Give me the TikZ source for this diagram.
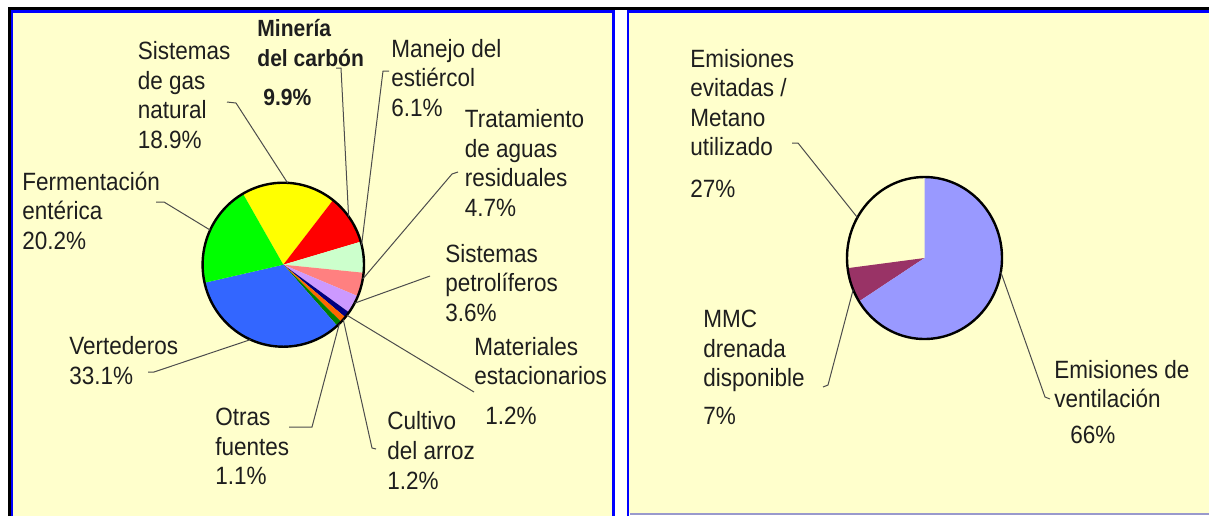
\documentclass[tikz,border=0pt]{standalone}
\usepackage{fontspec}
\setmainfont{Liberation Sans}[FakeStretch=0.9]
\usepackage{xcolor}

\definecolor{cream}{HTML}{FFFFCC}
\definecolor{gasyellow}{HTML}{FFFF00}
\definecolor{coalred}{HTML}{FF0000}
\definecolor{manuremint}{HTML}{CCFFCC}
\definecolor{watersalmon}{HTML}{FF8080}
\definecolor{oillilac}{HTML}{CC99FF}
\definecolor{statnavy}{HTML}{000080}
\definecolor{riceorange}{HTML}{FF6600}
\definecolor{otherdkgreen}{HTML}{008000}
\definecolor{landfillblue}{HTML}{3366FF}
\definecolor{entericgreen}{HTML}{00FF00}
\definecolor{drainmaroon}{HTML}{993366}
\definecolor{ventlavender}{HTML}{9999FF}
\definecolor{rimgrey}{HTML}{9999CC}
\definecolor{ink}{HTML}{1E1E1E}

\begin{document}
\begin{tikzpicture}[
    x=0.5pt, y=-0.5pt,
    lbl/.style={anchor=west, align=left, inner sep=0pt, text=ink, font=\fontsize{12.5}{14.75}\selectfont},
    leader/.style={draw=black!70, line width=0.5pt},
    rim/.style={draw=black, line width=1.2pt},
    frame/.style={draw=blue, line width=1.3pt}
]
    \useasboundingbox (0,0) rectangle (1209,516);
    \fill[white] (0,0) rectangle (1209,516);

    % Panels
    \fill[cream] (12,11) rectangle (613,516);
    \fill[cream] (628,11) rectangle (1209,513);
    \draw[line width=1.5pt] (9.5,516) -- (9.5,8.5) -- (1209,8.5);
    \draw[frame] (12,516) -- (12,11.5) -- (613.5,11.5) -- (613.5,516);
    \draw[frame] (628,516) -- (628,11.5) -- (1209,11.5);
    \draw[draw=rimgrey, line width=1pt] (630,513.5) -- (1209,513.5);

    % Left pie
    \begin{scope}[shift={(283.3,264.7)}, yscale=-1]
        \fill[gasyellow] (0,0) -- (120:80.7 and 82) arc[start angle=120, end angle=51.96, x radius=80.7, y radius=82] -- cycle;
        \fill[coalred] (0,0) -- (51.96:80.7 and 82) arc[start angle=51.96, end angle=16.32, x radius=80.7, y radius=82] -- cycle;
        \fill[manuremint] (0,0) -- (16.32:80.7 and 82) arc[start angle=16.32, end angle=-5.64, x radius=80.7, y radius=82] -- cycle;
        \fill[watersalmon] (0,0) -- (-5.64:80.7 and 82) arc[start angle=-5.64, end angle=-22.56, x radius=80.7, y radius=82] -- cycle;
        \fill[oillilac] (0,0) -- (-22.56:80.7 and 82) arc[start angle=-22.56, end angle=-35.52, x radius=80.7, y radius=82] -- cycle;
        \fill[statnavy] (0,0) -- (-35.52:80.7 and 82) arc[start angle=-35.52, end angle=-39.84, x radius=80.7, y radius=82] -- cycle;
        \fill[riceorange] (0,0) -- (-39.84:80.7 and 82) arc[start angle=-39.84, end angle=-44.16, x radius=80.7, y radius=82] -- cycle;
        \fill[otherdkgreen] (0,0) -- (-44.16:80.7 and 82) arc[start angle=-44.16, end angle=-48.12, x radius=80.7, y radius=82] -- cycle;
        \fill[landfillblue] (0,0) -- (-48.12:80.7 and 82) arc[start angle=-48.12, end angle=-167.28, x radius=80.7, y radius=82] -- cycle;
        \fill[entericgreen] (0,0) -- (-167.28:80.7 and 82) arc[start angle=-167.28, end angle=-240, x radius=80.7, y radius=82] -- cycle;
        \draw[rim] (0,0) ellipse[x radius=80.7, y radius=82];
        \coordinate (pGas) at (87:80.7 and 82);
        \coordinate (pCoal) at (36:80.7 and 82);
        \coordinate (pManure) at (14:80.7 and 82);
        \coordinate (pWater) at (-10:80.7 and 82);
        \coordinate (pOil) at (-28:80.7 and 82);
        \coordinate (pStat) at (-38:80.7 and 82);
        \coordinate (pRice) at (-42:80.7 and 82);
        \coordinate (pOther) at (-46:80.7 and 82);
        \coordinate (pLandfill) at (-114:80.7 and 82);
        \coordinate (pEnteric) at (155:80.7 and 82);
    \end{scope}

    % Right pie
    \begin{scope}[shift={(924.5,258)}, yscale=-1]
        \fill[drainmaroon] (0,0) -- (187.2:77.5 and 81) arc[start angle=187.2, end angle=212.4, x radius=77.5, y radius=81] -- cycle;
        \fill[ventlavender] (0,0) -- (212.4:77.5 and 81) arc[start angle=212.4, end angle=450, x radius=77.5, y radius=81] -- cycle;
        \draw[rim] (0,0) ellipse[x radius=77.5, y radius=81];
        \coordinate (pAvoided) at (150:77.5 and 81);
        \coordinate (pDrained) at (203:77.5 and 81);
        \coordinate (pVent) at (-10:77.5 and 81);
    \end{scope}

    % Left labels
    \node[lbl] (gas) at (137.5,95) {Sistemas\\de gas\\natural\\18.9\%};
    \node[lbl, font=\fontsize{11.7}{14.75}\selectfont\bfseries] (coal) at (257,63) {Minería\\del carbón\\[5pt]\hspace*{3pt}9.9\%};
    \node[lbl] (manure) at (391,78) {Manejo del\\estiércol\\6.1\%};
    \node[lbl] (water) at (464.5,163) {Tratamiento\\de aguas\\residuales\\4.7\%};
    \node[lbl] (enteric) at (22,210.5) {Fermentación\\entérica\\20.2\%};
    \node[lbl] (oil) at (445,283) {Sistemas\\petrolíferos\\3.6\%};
    \node[lbl] (stat) at (474,381) {Materiales\\estacionarios\\[5pt]\hspace*{5.5pt}1.2\%};
    \node[lbl] (landfill) at (69,360.5) {Vertederos\\33.1\%};
    \node[lbl] (other) at (215,446.5) {Otras\\fuentes\\1.1\%};
    \node[lbl] (rice) at (387,450.5) {Cultivo\\del arroz\\1.2\%};

    % Right labels
    \node[lbl] (avoided) at (690,123.5) {Emisiones\\evitadas /\\Metano\\utilizado\\[6pt]27\%};
    \node[lbl] (drained) at (703,367.5) {MMC\\drenada\\disponible\\[4pt]7\%};
    \node[lbl] (vent) at (1054,402) {Emisiones de\\ventilación\\[3pt]\hspace*{8pt}66\%};

    % Leader ends
    \coordinate (gasTip) at (227,102);
    \coordinate (coalTip) at (336,68);
    \coordinate (manureTip) at (389,71);
    \coordinate (waterTip) at (458,172);
    \coordinate (oilTip) at (430,276);
    \coordinate (statTip) at (474,392);
    \coordinate (riceTip) at (376,449);
    \coordinate (otherTip) at (289,427);
    \coordinate (landfillTip) at (148,372);
    \coordinate (entericTip) at (156,202);
    \coordinate (avoidedTip) at (792,143);
    \coordinate (drainedTip) at (823,387);
    \coordinate (ventTip) at (1050,399);

    % Leaders
    \draw[leader] (gasTip) -- ++(9,1) -- (pGas);
    \draw[leader] (coalTip) -- ++(5,0) -- (pCoal);
    \draw[leader] (manureTip) -- ++(-6,0) -- (pManure);
    \draw[leader] (waterTip) -- ++(-6,2) -- (pWater);
    \draw[leader] (oilTip) -- (pOil);
    \draw[leader] (statTip) -- (pStat);
    \draw[leader] (riceTip) -- ++(-4,-1) -- (pRice);
    \draw[leader] (otherTip) -- ++(23,0) -- (pOther);
    \draw[leader] (landfillTip) -- ++(6,0) -- (pLandfill);
    \draw[leader] (entericTip) -- ++(8,0) -- (pEnteric);
    \draw[leader] (avoidedTip) -- ++(6,0) -- (pAvoided);
    \draw[leader] (drainedTip) -- ++(5,-2) -- (pDrained);
    \draw[leader] (ventTip) -- ++(-5,-2) -- (pVent);
\end{tikzpicture}
\end{document}
